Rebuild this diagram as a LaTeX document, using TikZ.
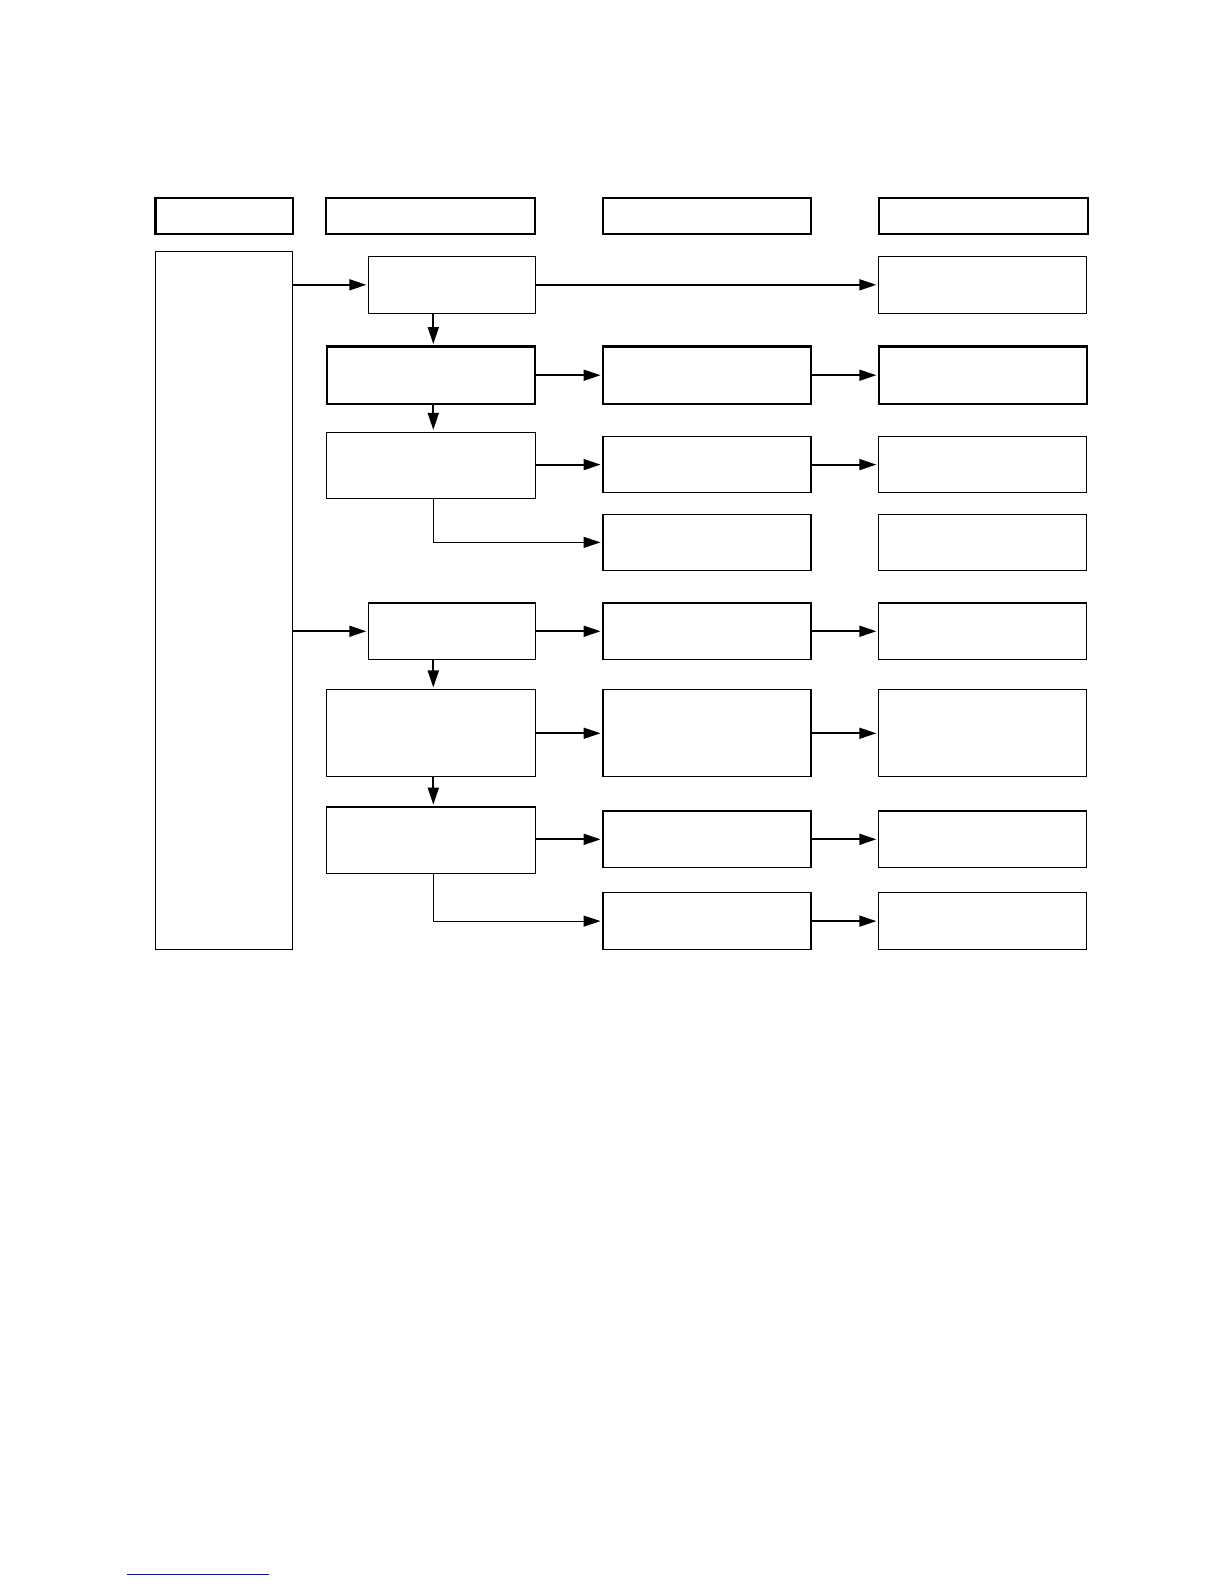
\documentclass[tikz,border=0pt]{standalone}
\usepackage{tikz}
\usetikzlibrary{arrows.meta}

\definecolor{linkblue}{RGB}{20,20,150}

\tikzset{
  box/.style 2 args={draw, line width=0.55bp, inner sep=0pt, outer sep=0pt,
    minimum width=#1*0.505bp, minimum height=#2*0.505bp},
  hbox/.style 2 args={box={#1}{#2}, line width=1.1bp},
  arr/.style={line width=0.9bp, -{Triangle[length=8.5bp,width=5.5bp]}, shorten >=1.2bp},
  elb/.style={line width=0.6bp, -{Triangle[length=8.5bp,width=5.5bp]}, shorten >=1.2bp}
}

\begin{document}
\begin{tikzpicture}[x=0.505bp, y=-0.505bp]
      \useasboundingbox (0bp,0bp) rectangle (612bp,-792bp);
      \coordinate (spine) at (429,0);
      % header row
      \node[hbox={136}{36}] (H1) at (222,214) {};
      \node[hbox={207}{36}] (H2) at (426.5,214) {};
      \node[hbox={206}{36}] (H3) at (700,214) {};
      \node[hbox={207}{36}] (H4) at (973.5,214) {};
      % left column
      \node[box={136}{691}] (L) at (222,594.5) {};
      % second column
      \node[box={165}{56}] (A1) at (447.5,282) {};
      \node[hbox={206}{57}] (A2) at (427,371.5) {};
      \node[box={207}{66}] (A3) at (426.5,461) {};
      \node[box={165}{56}] (B1) at (447.5,625) {};
      \node[box={207}{86}] (B2) at (426.5,726) {};
      \node[box={207}{66}] (B3) at (426.5,832) {};
      % third column
      \node[hbox={206}{57}] (C2) at (700,371.5) {};
      \node[box={206}{56}] (C3) at (700,460) {};
      \node[box={206}{56}] (C4) at (700,537) {};
      \node[box={206}{56}] (C5) at (700,625) {};
      \node[box={206}{86}] (C6) at (700,726) {};
      \node[box={206}{56}] (C7) at (700,831) {};
      \node[box={206}{56}] (C8) at (700,912) {};
      % fourth column
      \node[box={206}{56}] (D1) at (973,282) {};
      \node[hbox={206}{57}] (D2) at (973,371.5) {};
      \node[box={206}{56}] (D3) at (973,460) {};
      \node[box={206}{56}] (D4) at (973,537) {};
      \node[box={206}{56}] (D5) at (973,625) {};
      \node[box={206}{86}] (D6) at (973,726) {};
      \node[box={206}{56}] (D7) at (973,831) {};
      \node[box={206}{56}] (D8) at (973,912) {};
      % connectors
      \draw[arr] (L.east |- A1) -- (A1.west);
      \draw[arr] (L.east |- B1) -- (B1.west);
      \draw[arr] (A1.east) -- (D1.west);
      \draw[arr] (A1.south -| spine) -- (A2.north -| spine);
      \draw[arr] (A2.south -| spine) -- (A3.north -| spine);
      \draw[arr] (B1.south -| spine) -- (B2.north -| spine);
      \draw[arr] (B2.south -| spine) -- (B3.north -| spine);
      \draw[arr] (A2.east) -- (C2.west);
      \draw[arr] (C2.east) -- (D2.west);
      \draw[arr] (A3.east |- C3) -- (C3.west);
      \draw[arr] (C3.east) -- (D3.west);
      \draw[elb] (A3.south -| spine) |- (C4.west);
      \draw[arr] (B1.east) -- (C5.west);
      \draw[arr] (C5.east) -- (D5.west);
      \draw[arr] (B2.east) -- (C6.west);
      \draw[arr] (C6.east) -- (D6.west);
      \draw[arr] (B3.east |- C7) -- (C7.west);
      \draw[arr] (C7.east) -- (D7.west);
      \draw[elb] (B3.south -| spine) |- (C8.west);
      \draw[arr] (C8.east) -- (D8.west);
      % link underline
      \draw[linkblue, line width=0.6bp] (126,1559) -- (266,1559);
    \end{tikzpicture}
\end{document}
